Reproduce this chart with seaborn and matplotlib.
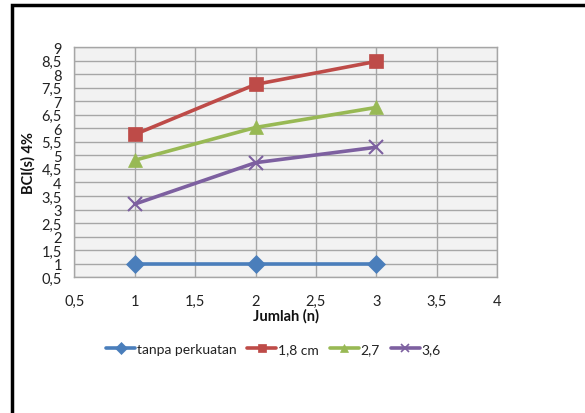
import matplotlib
matplotlib.use("Agg")
import matplotlib.pyplot as plt
import seaborn as sns
import pandas as pd
from matplotlib.lines import Line2D
from matplotlib.patches import Rectangle
from matplotlib.ticker import FuncFormatter, MultipleLocator

# ---- data ----
jumlah = [1, 2, 3]
series_names = ["tanpa perkuatan", "1,8 cm", "2,7", "3,6"]
tanpa_perkuatan = [1.0, 1.0, 1.0]
s_1_8 = [5.77, 7.62, 8.47]
s_2_7 = [4.82, 6.03, 6.77]
s_3_6 = [3.2, 4.73, 5.3]
x_label = "Jumlah (n)"
y_label = "BCI(s) 4%"

colors = ["#4A7EBB", "#BE4B48", "#98B954", "#7D60A0"]
markers = ["D", "s", "^", "x"]
msizes = [9, 10, 10, 10]

rows = []
for name, vals in zip(series_names, [tanpa_perkuatan, s_1_8, s_2_7, s_3_6]):
    for x, v in zip(jumlah, vals):
        rows.append({"Jumlah": x, "BCI": v, "series": name})
df = pd.DataFrame(rows)

sns.set_theme(style="white")
plt.rcParams["font.family"] = ["Lato", "DejaVu Sans"]

fig = plt.figure(figsize=(5.85, 4.14), dpi=100)
ax = fig.add_axes([0.127, 0.328, 0.723, 0.556])
ax.set_facecolor("#F2F2F2")

for i, name in enumerate(series_names):
    sub = df[df["series"] == name]
    sns.lineplot(data=sub, x="Jumlah", y="BCI", ax=ax, color=colors[i],
                 linewidth=2.6, marker=markers[i], markersize=msizes[i],
                 markeredgecolor=colors[i], markeredgewidth=1.5 if markers[i] == "x" else 0.5,
                 legend=False, zorder=3)

ax.set_xlim(0.5, 4)
ax.set_ylim(0.5, 9)
ax.xaxis.set_major_locator(MultipleLocator(0.5))
ax.yaxis.set_major_locator(MultipleLocator(0.5))
fmt = FuncFormatter(lambda v, p: ("%g" % v).replace(".", ","))
ax.xaxis.set_major_formatter(fmt)
ax.yaxis.set_major_formatter(fmt)
ax.grid(True, color="#A6A6A6", linewidth=1.0)
ax.set_axisbelow(True)
for s in ax.spines.values():
    s.set_color("#A6A6A6")
    s.set_linewidth(1.0)
ax.tick_params(axis="both", length=0, labelsize=10.5, colors="#222222")
ax.tick_params(axis="y", pad=9)
ax.tick_params(axis="x", pad=12)
ax.set_xlabel(x_label, fontsize=10.5, fontweight="bold", labelpad=0, color="#111111")
ax.set_ylabel(y_label, fontsize=10.5, fontweight="bold", labelpad=4, color="#111111")

handles = [Line2D([0], [0], color=colors[i], linewidth=2.6, marker=markers[i],
                  markersize=6, markeredgewidth=1.2 if markers[i] == "x" else 0.5)
           for i in range(4)]
fig.legend(handles, series_names, loc="center", bbox_to_anchor=(0.467, 0.155),
           ncol=4, frameon=False, fontsize=10, handlelength=2.1, handletextpad=0.1,
           columnspacing=0.8, labelcolor="#222222")

# outer black frame (top and left edges visible)
fig.patches.append(Rectangle((11.5 / 585, -0.2), 1.2, 1.2 - 5.5 / 414,
                             transform=fig.transFigure, fill=False,
                             edgecolor="black", linewidth=2.5, zorder=10))

fig.savefig("out.png", dpi=100)
